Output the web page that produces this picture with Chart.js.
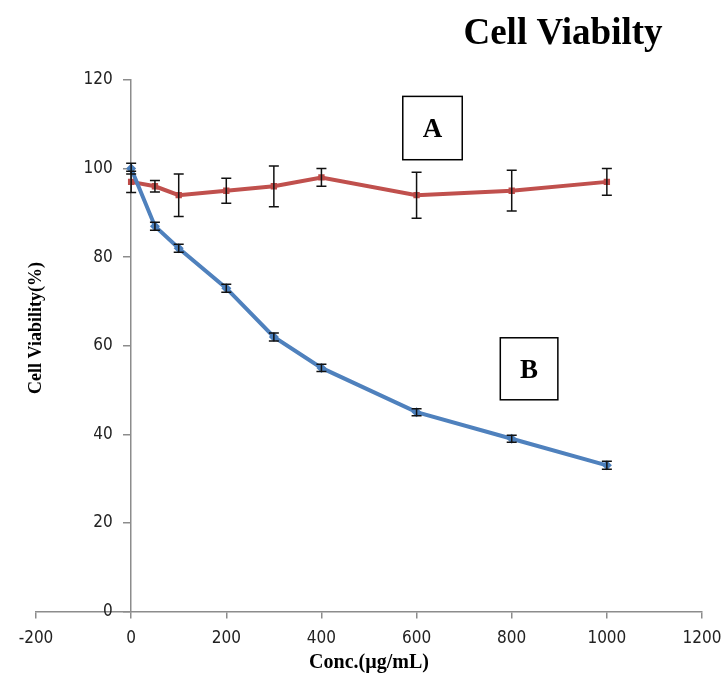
<!DOCTYPE html>
<html>
<head>
<meta charset="UTF-8">
<title>Cell Viabilty</title>
<style>
  html, body { margin: 0; padding: 0; background: #fff; }
  #wrap { position: relative; width: 723px; height: 677px; }
</style>
</head>
<body>
<div id="wrap"><canvas id="viabChart"></canvas></div>
<script src="https://cdn.jsdelivr.net/npm/chart.js@4.4.1/dist/chart.umd.min.js"></script>
<script>
  // values
  const concentrations = [0, 50, 100, 200, 300, 400, 600, 800, 1000];
  const viabilityA = [97, 96, 94, 95, 96, 98, 94, 95, 97];
  const errorA = [2.4, 1.3, 4.8, 2.8, 4.6, 2.0, 5.2, 4.6, 3.0];
  const viabilityB = [100, 87, 82, 73, 62, 55, 45, 39, 33];
  const errorB = [1.2, 0.9, 0.9, 0.9, 0.9, 0.8, 0.8, 0.8, 0.9];
  const xTicks = [-200, 0, 200, 400, 600, 800, 1000, 1200];
  const yTicks = [0, 20, 40, 60, 80, 100, 120];

  const tickFont = { family: "'DejaVu Sans Condensed', 'Liberation Sans', sans-serif", size: 17 };
  const serif = "'Liberation Serif', 'DejaVu Serif', serif";
  const axisGrey = '#8c8c8c';

  const toPoints = (ys) => ys.map((y, i) => ({ x: concentrations[i], y: y }));

  // black error bars with caps, drawn on top of the lines
  const errorBars = {
    id: 'errorBars',
    afterDatasetsDraw(chart) {
      const ctx = chart.ctx;
      const xs = chart.scales.x, ys = chart.scales.y;
      ctx.save();
      ctx.strokeStyle = '#111';
      ctx.lineWidth = 1.5;
      chart.data.datasets.forEach(ds => {
        ds.data.forEach((p, i) => {
          const e = ds.errors[i];
          const x = xs.getPixelForValue(p.x);
          const t = ys.getPixelForValue(p.y + e);
          const b = ys.getPixelForValue(p.y - e);
          ctx.beginPath();
          ctx.moveTo(x, t); ctx.lineTo(x, b);
          ctx.moveTo(x - 5, t); ctx.lineTo(x + 5, t);
          ctx.moveTo(x - 5, b); ctx.lineTo(x + 5, b);
          ctx.stroke();
        });
      });
      ctx.restore();
    }
  };

  // chart title, y axis title and the boxed A / B labels
  const extras = {
    id: 'extras',
    afterDraw(chart) {
      const ctx = chart.ctx;
      const xs = chart.scales.x, ys = chart.scales.y;
      ctx.save();
      ctx.fillStyle = '#000';
      ctx.textAlign = 'center';
      ctx.textBaseline = 'alphabetic';
      ctx.font = 'bold 37px ' + serif;
      ctx.fillText('Cell Viabilty', 563, 44);

      ctx.save();
      ctx.translate(36, 328);
      ctx.rotate(-Math.PI / 2);
      ctx.textBaseline = 'middle';
      ctx.font = 'bold 18px ' + serif;
      ctx.fillText('Cell Viability(%)', 0, 0);
      ctx.restore();

      const boxes = [
        { text: 'A', x0: 571, x1: 696, y0: 116.3, y1: 102 },
        { text: 'B', x0: 776, x1: 897, y0: 61.8, y1: 47.8 }
      ];
      ctx.lineWidth = 1.5;
      ctx.strokeStyle = '#000';
      ctx.font = 'bold 27px ' + serif;
      ctx.textBaseline = 'middle';
      boxes.forEach(bx => {
        const l = xs.getPixelForValue(bx.x0), r = xs.getPixelForValue(bx.x1);
        const t = ys.getPixelForValue(bx.y0), b = ys.getPixelForValue(bx.y1);
        ctx.strokeRect(l, t, r - l, b - t);
        ctx.fillText(bx.text, (l + r) / 2, (t + b) / 2 + 2);
      });
      ctx.restore();
    }
  };

  new Chart(document.getElementById('viabChart'), {
    type: 'line',
    data: {
      datasets: [
        {
          label: 'B',
          data: toPoints(viabilityB),
          errors: errorB,
          borderColor: '#4f81bd',
          backgroundColor: '#4a7ebb',
          borderWidth: 4,
          pointStyle: 'rectRot',
          pointRadius: 5,
          pointBorderWidth: 0,
          tension: 0
        },
        {
          label: 'A',
          data: toPoints(viabilityA),
          errors: errorA,
          borderColor: '#c0504d',
          backgroundColor: '#be4b48',
          borderWidth: 4,
          pointStyle: 'rect',
          pointRadius: 4.5,
          pointBorderWidth: 0,
          tension: 0
        }
      ]
    },
    options: {
      responsive: true,
      maintainAspectRatio: false,
      animation: false,
      layout: { padding: { left: 36, right: 21, top: 80, bottom: 4.5 } },
      plugins: {
        legend: { display: false },
        tooltip: { enabled: false }
      },
      scales: {
        x: {
          type: 'linear',
          position: 'bottom',
          min: -200,
          max: 1200,
          afterBuildTicks: (scale) => { scale.ticks = xTicks.map(v => ({ value: v })); },
          // fixed box so the plot area matches the original frame
          afterFit: (scale) => {
            scale.height = 61;
            scale.paddingLeft = 0;
            scale.paddingRight = 0;
          },
          grid: { drawOnChartArea: false, drawTicks: true, tickLength: 7, color: axisGrey, lineWidth: 1.5 },
          border: { color: axisGrey, width: 1.5 },
          ticks: { font: tickFont, color: '#222', padding: 10, maxRotation: 0, callback: (v) => String(v) },
          title: {
            display: true,
            text: 'Conc.(µg/mL)',
            font: { family: serif, size: 20, weight: 'bold', lineHeight: 1.0 },
            color: '#000',
            padding: { top: 2, bottom: 0 }
          }
        },
        y: {
          type: 'linear',
          position: { x: 0 },
          min: 0,
          max: 120,
          afterBuildTicks: (scale) => { scale.ticks = yTicks.map(v => ({ value: v })); },
          afterFit: (scale) => {
            scale.paddingTop = 0;
            scale.paddingBottom = 0;
          },
          grid: { drawOnChartArea: false, drawTicks: true, tickLength: 7, color: axisGrey, lineWidth: 1.5 },
          border: { color: axisGrey, width: 1.5 },
          // the axis sits at x = 0, so the labels are pushed left of the tick marks with trailing spaces
          ticks: { font: tickFont, color: '#222', callback: (v) => String(v) + '\u2003\u2009' }
        }
      }
    },
    plugins: [errorBars, extras]
  });
</script>
</body>
</html>
